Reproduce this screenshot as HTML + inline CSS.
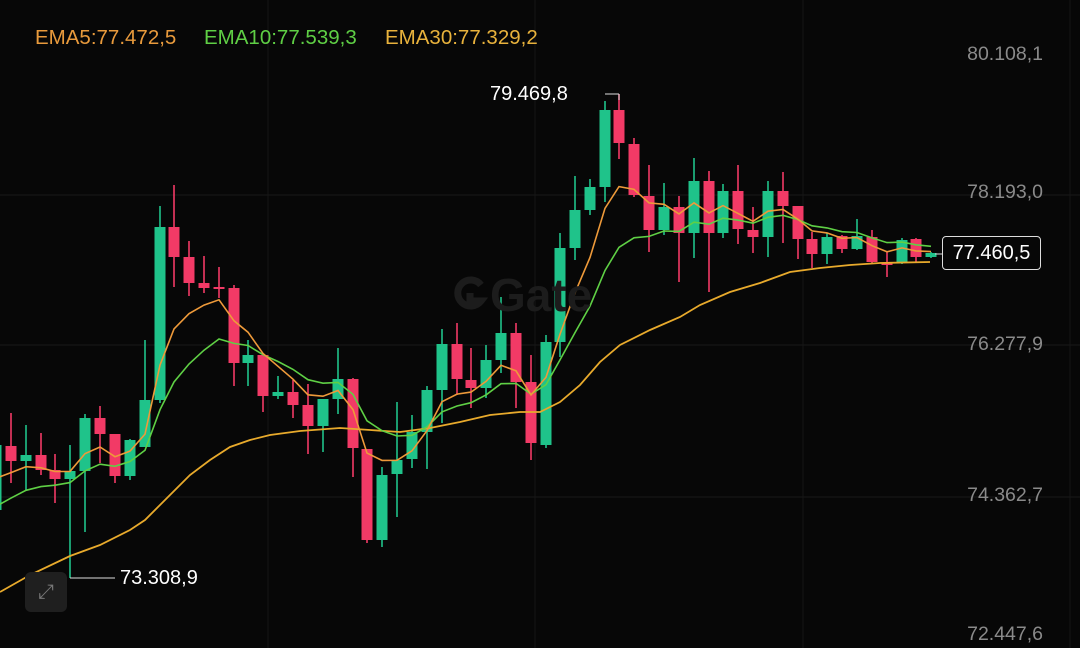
<!DOCTYPE html>
<html><head><meta charset="utf-8"><style>
html,body{margin:0;padding:0;background:#070707;}
#c{position:relative;width:1080px;height:648px;overflow:hidden;background:#070707;font-family:"Liberation Sans",sans-serif;}
.t{position:absolute;white-space:nowrap;}
.ax{right:37px;font-size:19.5px;color:#8a8a8a;}
</style></head><body><div id="c">
<svg id="s" width="1080" height="648" style="position:absolute;left:0;top:0"></svg>
<div class="t" style="left:35px;top:26px;font-size:20.5px;color:#e89a3c">EMA5:77.472,5</div>
<div class="t" style="left:204px;top:26px;font-size:20.5px;color:#5fcf45">EMA10:77.539,3</div>
<div class="t" style="left:385px;top:26px;font-size:20.5px;color:#e8b23c">EMA30:77.329,2</div>
<div class="t ax" style="top:43px">80.108,1</div>
<div class="t ax" style="top:181px">78.193,0</div>
<div class="t ax" style="top:333px">76.277,9</div>
<div class="t ax" style="top:484px">74.362,7</div>
<div class="t ax" style="top:623px">72.447,6</div>
<div class="t" style="left:490px;top:83px;font-size:20px;color:#fff">79.469,8</div>
<div class="t" style="left:120px;top:567px;font-size:20px;color:#fff">73.308,9</div>
<div class="t" style="left:942px;top:236px;width:97px;height:32px;border:1.5px solid #ddd;border-radius:4px;background:#070707;color:#fff;font-size:20px;line-height:32px;text-align:center">77.460,5</div>
<div class="t" style="left:490px;top:268px;font-size:46px;font-weight:bold;color:#1c1c1c;letter-spacing:0px">Gate</div>
<div class="t" style="left:25px;top:572px;width:42px;height:40px;border-radius:6px;background:#1f1f1f;color:#777;font-size:20px;line-height:40px;text-align:center">⤢</div>
</div>
<script>
var s=document.getElementById('s'),h='';
function L(x1,y1,x2,y2,c,w){h+='<line x1="'+x1+'" y1="'+y1+'" x2="'+x2+'" y2="'+y2+'" stroke="'+c+'" stroke-width="'+w+'"/>';}
h+='<path d="M481 285 A13 13 0 1 0 481 301 L470 301 L470 293" fill="none" stroke="#1c1c1c" stroke-width="7"/>';
[195,345,497].forEach(function(y){L(0,y,1080,y,'#1a1a1a',1);});
[268,535,803,1070].forEach(function(x){L(x,0,x,648,'#161616',1);});
var C=[[-4,445,510,400,537,1],[11,446,461,413,483,0],[26,455,461,425,490,1],[41,455,470,433,475,0],[55,470,479,454,503,0],[70,471,479,445,578,1],[85,418,471,414,532,1],[100,418,434,406,463,0],[115,434,476,434,483,0],[130,440,476,439,480,1],[145,400,447,340,447,1],[160,227,400,206,403,1],[174,227,257,185,287,0],[189,257,283,241,296,0],[204,283,288,256,293,0],[219,287,289,267,298,0],[234,288,363,285,386,0],[248,355,363,340,386,1],[263,355,396,355,412,0],[278,392,396,376,399,1],[293,392,405,380,418,0],[308,405,426,384,454,0],[323,399,426,399,452,1],[338,379,399,348,414,1],[353,379,448,378,477,0],[367,449,540,449,543,0],[382,475,540,467,547,1],[397,460,474,402,517,1],[412,432,459,415,468,1],[427,390,432,386,469,1],[442,344,390,329,423,1],[457,344,379,323,395,0],[471,380,388,348,408,0],[486,360,388,345,398,1],[501,333,360,297,373,1],[516,333,382,323,408,0],[531,382,443,355,460,0],[546,342,445,335,448,1],[560,248,342,233,357,1],[575,210,248,176,260,1],[590,187,210,179,215,1],[605,110,187,101,202,1],[619,110,143,94,159,0],[634,144,195,138,197,0],[649,196,230,165,252,0],[664,207,230,183,235,1],[679,207,233,196,282,0],[694,181,233,158,258,1],[709,181,233,171,292,0],[723,191,233,184,238,1],[738,191,229,165,244,0],[753,230,237,207,253,0],[768,191,237,181,257,1],[783,191,206,172,243,0],[798,206,239,206,259,0],[812,239,254,232,268,0],[827,237,254,233,264,1],[842,236,249,235,253,0],[857,236,249,219,250,1],[872,237,262,230,264,0],[887,263,264,252,277,0],[902,240,263,238,264,1],[916,239,257,238,263,0],[931,253,257,252,258,1]];
var G='#1fc38a',R='#f23a66';
C.forEach(function(c){var col=c[5]?G:R;L(c[0],c[3],c[0],c[4],col,1.6);
h+='<rect x="'+(c[0]-5.5)+'" y="'+c[1]+'" width="11" height="'+Math.max(2,c[2]-c[1])+'" fill="'+col+'"/>';});
function ema(n,seed){var k=2/(n+1),e=seed,p=[];C.forEach(function(c){var cl=c[5]?c[1]:c[2];e=e+(cl-e)*k;p.push(c[0]+','+e.toFixed(1));});return p.join(' ');}
var e30="0,592 30,575 70,556 100,545 130,530 145,520 160,505 175,490 190,475 210,460 230,447 250,440 270,435 300,431 340,428 370,430 400,432 430,428 460,422 490,415 520,412 540,412 560,402 580,385 600,362 620,345 650,330 680,317 700,305 730,292 760,283 790,272 820,268 850,265 880,263 930,262";
h+='<polyline points="'+e30+'" fill="none" stroke="#e8aa2c" stroke-width="1.8"/>';
h+='<polyline points="'+ema(10,520)+'" fill="none" stroke="#5fd045" stroke-width="1.6"/>';
h+='<polyline points="'+ema(5,495)+'" fill="none" stroke="#ee9a3a" stroke-width="1.6"/>';
L(605,94,619,94,'#ddd',1);L(619,94,619,100,'#ddd',1);
L(70,578,115,578,'#ddd',1);
L(935,254,942,254,'#ddd',1);
s.innerHTML=h;
</script>
</body></html>
